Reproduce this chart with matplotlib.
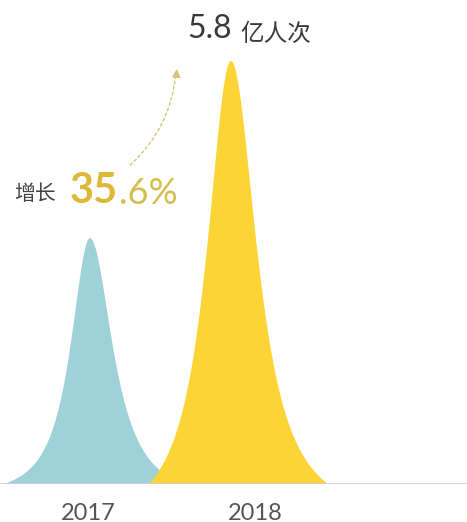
import numpy as np
import matplotlib.pyplot as plt

# data (x in pixel-like units across the chart, heights as % of plot height)
years = ['2017', '2018']
label_x = [88, 255]
peak_x = [90, 231]
peak_height = [50.8, 87.4]
hwhm_left = [23, 29]
hwhm_right = [27, 31]
base_left = [86, 82]
base_right = [95, 97]
colors = ['#9fd1d8', '#fcd435']
total_text = '5.8'
growth_text = ['35', '.6%']

W, H = 467, 522
BASE = 484
P = 1.2


def side(d, hw, ext):
    a = hw / np.sqrt(2 ** (1 / P) - 1)
    f = (1 + (d / a) ** 2) ** -P
    fe = (1 + (ext / a) ** 2) ** -P
    return np.clip((f - fe) / (1 - fe), 0, None)


fig = plt.figure(figsize=(W / 100, H / 100), dpi=100)
ax = fig.add_axes([0, (H - BASE) / H, 1, BASE / H])
ax.set_xlim(0, W)
ax.set_ylim(0, 100)
ax.axis('off')

x = np.linspace(0, W, 2000)
for i in range(len(years)):
    d = x - peak_x[i]
    y = np.where(d < 0, side(d, hwhm_left[i], base_left[i]),
                 side(d, hwhm_right[i], base_right[i]))
    ax.fill_between(x, 0, y * peak_height[i], color=colors[i], lw=0, zorder=2 + i)

ax.axhline(0, color='#d0d0d0', lw=1.2, zorder=5)


def px(xp, yp):
    return xp / W, 1 - yp / H


for lx, yr in zip(label_x, years):
    fig.text(*px(lx, 513), yr, ha='center', va='center', fontsize=17,
             family='Lato', color='#555555')

t = fig.text(*px(187, 38), total_text, ha='left', va='baseline', fontsize=23,
             family='Lato', color='#3a3a3a')
ax.annotate('亿人次', xy=(1, 0), xycoords=t, xytext=(6, 2.5),
            textcoords='offset points', ha='left', va='baseline', fontsize=17,
            family='Noto Sans CJK SC', color='#3a3a3a')

fig.text(*px(14, 200), '增长', ha='left', va='baseline', fontsize=15,
         family='Noto Sans CJK SC', color='#444444')
g = fig.text(*px(70, 203), growth_text[0], ha='left', va='baseline', fontsize=30,
             family='Lato', weight='bold', color='#dcb93a')
ax.annotate(growth_text[1], xy=(1, 0), xycoords=g, xytext=(0.5, 0),
            textcoords='offset points', ha='left', va='bottom', fontsize=26,
            family='Lato', color='#d6bd4e')

# dotted growth arrow
start = (128, 100 * (BASE - 167) / BASE)
end = (176, 100 * (BASE - 72) / BASE)
ax.annotate('', xy=end, xytext=start,
            arrowprops=dict(arrowstyle='-', color='#d8c57a', lw=1,
                            linestyle=(0, (2, 2)),
                            connectionstyle='arc3,rad=0.2'))
ax.annotate('', xy=(177, 100 * (BASE - 66) / BASE),
            xytext=(176.5, 100 * (BASE - 74) / BASE),
            arrowprops=dict(arrowstyle='-|>,head_length=0.5,head_width=0.25',
                            color='#d8c57a', lw=1))

fig.savefig('out.png', dpi=100)
